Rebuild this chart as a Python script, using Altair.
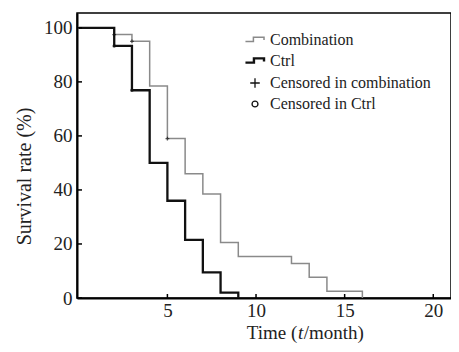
import altair as alt
import pandas as pd

SERIF = "Liberation Serif"

comb_time = [0, 2, 3, 4, 5, 6, 7, 8, 9, 12, 13, 14, 16]
comb_surv = [100, 97.5, 95, 78.5, 59, 46, 38.5, 20.5, 15.4, 12.8, 7.7, 2.5, 0]
ctrl_time = [0, 2, 3, 4, 5, 6, 7, 8, 9]
ctrl_surv = [100, 93.3, 76.9, 50, 36, 21.5, 9.5, 2, 0]
cens_comb_time = [2, 3, 5]
cens_comb_surv = [97.5, 95, 59]
cens_ctrl_time = [2, 3]
cens_ctrl_surv = [93.3, 76.9]
series_names = ["Combination", "Ctrl", "Censored in combination", "Censored in Ctrl"]
x_ticks = [5, 10, 15, 20]
y_ticks = [0, 20, 40, 60, 80, 100]

GRAY = "#8a8a8a"
BLACK = "#111111"

lines = pd.DataFrame({
    "time": comb_time + ctrl_time,
    "surv": comb_surv + ctrl_surv,
    "series": ["Combination"] * len(comb_time) + ["Ctrl"] * len(ctrl_time),
})

W, H = 374, 285
x_scale = alt.Scale(domain=[-0.1, 21], nice=False, zero=False)
y_scale = alt.Scale(domain=[0, 105.5], nice=False, zero=False)

x_axis = alt.Axis(values=x_ticks, tickSize=0, labelPadding=3, labelFontSize=19, labelFont=SERIF,
                  labelColor="#222", domainColor="black", domainWidth=2, grid=False, title=None,
                  labelFlush=False)
y_axis = alt.Axis(values=y_ticks, tickSize=0, labelPadding=5, labelFontSize=19, labelFont=SERIF,
                  labelColor="#222", domainColor="black", domainWidth=2, grid=False,
                  title="Survival rate (%)", titleFont=SERIF, titleFontSize=20, titleFontWeight="normal",
                  titleColor="#222", titleX=-47, titleY=163, titleAngle=270, titleAlign="center",
                  titleBaseline="alphabetic")

comb_line = alt.Chart(lines).transform_filter(alt.datum.series == "Combination").mark_line(
    interpolate="step-after", color=GRAY, strokeWidth=1.5
).encode(
    x=alt.X("time:Q", scale=x_scale, axis=x_axis),
    y=alt.Y("surv:Q", scale=y_scale, axis=y_axis),
)
ctrl_line = alt.Chart(lines).transform_filter(alt.datum.series == "Ctrl").mark_line(
    interpolate="step-after", color=BLACK, strokeWidth=2.3
).encode(x="time:Q", y="surv:Q")

step_comb = "M-0.9,0.15 L-0.15,0.15 L-0.15,-0.25 L0.85,-0.25 L0.85,0.0"
step_ctrl = "M-0.9,0.15 L-0.1,0.15 L-0.1,-0.25 L0.85,-0.25 L0.85,0.05"
cross = "M-0.45,0 L0.45,0 M0,-0.45 L0,0.45"
circle = "M0.28,0 A0.28,0.28 0 1 1 -0.28,0 A0.28,0.28 0 1 1 0.28,0 Z"

cens_comb = pd.DataFrame({"time": cens_comb_time, "surv": cens_comb_surv})
cens_ctrl = pd.DataFrame({"time": cens_ctrl_time, "surv": cens_ctrl_surv})
pts_comb = alt.Chart(cens_comb).mark_point(shape=cross, filled=False, size=70, color=BLACK, strokeWidth=1.3).encode(
    x="time:Q", y="surv:Q")
pts_ctrl = alt.Chart(cens_ctrl).mark_point(shape=circle, filled=False, size=70, color=BLACK, strokeWidth=1.3).encode(
    x="time:Q", y="surv:Q")

xt = alt.Chart(pd.DataFrame({"time": x_ticks})).mark_rule(color="black", strokeWidth=1.5).encode(
    x="time:Q", y=alt.value(H), y2=alt.value(H - 4))
yt = alt.Chart(pd.DataFrame({"surv": y_ticks})).mark_rule(color="black", strokeWidth=1.5).encode(
    y="surv:Q", x=alt.value(0), x2=alt.value(5))

# custom legend (symbols + labels)
leg_shapes = [step_comb, step_ctrl, cross, circle]
leg_colors = [GRAY, BLACK, BLACK, BLACK]
leg_widths = [1.5, 2.4, 1.3, 1.3]
leg_rows = [27, 48, 70, 91]
legend_layers = []
for name, shp, col, sw, ry in zip(series_names, leg_shapes, leg_colors, leg_widths, leg_rows):
    d = pd.DataFrame({"label": [name]})
    legend_layers.append(
        alt.Chart(d).mark_point(shape=shp, filled=False, size=450, color=col, strokeWidth=sw, opacity=1)
        .encode(x=alt.value(178), y=alt.value(ry))
    )
    legend_layers.append(
        alt.Chart(d).mark_text(font=SERIF, fontSize=16, align="left", baseline="middle", color="#222")
        .encode(text="label:N", x=alt.value(193), y=alt.value(ry))
    )

TY = 326
TX = 169.7
t1 = alt.Chart(pd.DataFrame({"label": ["Time ("]})).mark_text(
    font=SERIF, fontSize=19, align="left", baseline="alphabetic", color="#222"
).encode(text="label:N", x=alt.value(TX), y=alt.value(TY))
t2 = alt.Chart(pd.DataFrame({"label": ["t"]})).mark_text(
    font=SERIF, fontSize=19, fontStyle="italic", align="left", baseline="alphabetic", color="#222"
).encode(text="label:N", x=alt.value(TX + 51.2), y=alt.value(TY))
t3 = alt.Chart(pd.DataFrame({"label": ["/month)"]})).mark_text(
    font=SERIF, fontSize=19, align="left", baseline="alphabetic", color="#222"
).encode(text="label:N", x=alt.value(TX + 57), y=alt.value(TY))

chart = alt.layer(comb_line, ctrl_line, pts_comb, pts_ctrl, xt, yt, t1, t2, t3, *legend_layers).properties(
    width=W, height=H,
    autosize=alt.AutoSizeParams(type="none"),
    padding={"left": 69, "top": 5, "right": 0, "bottom": 46},
    background="white",
).configure_view(stroke="black", strokeWidth=1.5)

chart.save("out.html", embed_options={"renderer": "svg", "actions": False})
